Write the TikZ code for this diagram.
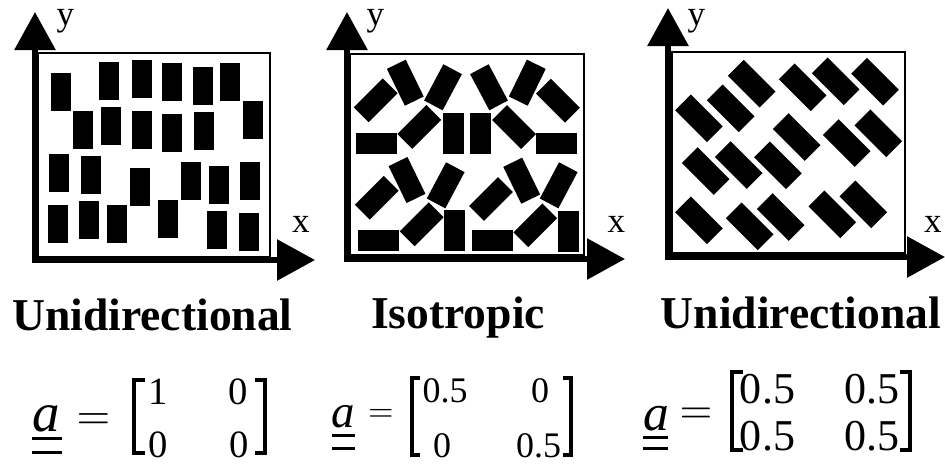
\documentclass[tikz,border=0pt]{standalone}
\usepackage[no-math]{fontspec}
\setmainfont{Liberation Serif}
\usepackage{amsmath}
\usetikzlibrary{arrows.meta, calc}

\begin{document}
\begin{tikzpicture}[
        x=0.03cm, y=-0.03cm,
        fibre/.style={fill=black, inner sep=0pt, minimum width=0.6cm, minimum height=1.14cm},
        isofibre/.style={fibre, minimum width=0.63cm, minimum height=1.23cm},
        skewfibre/.style={fibre, minimum width=0.67cm, minimum height=1.35cm, rotate=45},
        frame/.style={line width=0.06cm},
        axis/.style={line width=0.18cm, {Triangle[length=1.14cm, width=1.2cm]}-{Triangle[length=1.14cm, width=1.2cm]}},
        axlabel/.style={anchor=base, inner sep=0pt, font=\fontsize{30}{32}\selectfont},
        title/.style={anchor=base, inner sep=0pt, font=\fontsize{38.9}{40}\selectfont\bfseries},
        entry/.style={anchor=base, inner sep=0pt, font=\fontsize{#1}{#1}\selectfont},
        tensor/.style={anchor=base, inner sep=0pt, font=\fontsize{#1}{#1}\selectfont\itshape},
        equals/.style={anchor=base, inner sep=0pt},
        bracket/.style={line width=0.1cm},
        uline/.style={line width=0.09cm}
    ]
    \useasboundingbox (0,0) rectangle (945,463);

    % panel 1: unidirectional along y
    \draw[frame] (38,53) rectangle (270,257);
    \foreach \px/\py [count=\k] in {60.7/92, 109/81, 141.5/78.5, 171.5/82, 202.5/86, 230/82,
            83/130, 111/126, 142/130, 172/133, 204/131, 253/120,
            59/173, 91/175, 140/186.5, 191/181, 219/185, 250/181,
            58/224, 89/220, 117/224, 168/218.5, 217/230, 249/232}
        \node[fibre] (u\k) at (\px,\py) {};
    \draw[axis] (35,12) -- (35,260) -- (315,260);
    \node[axlabel] (y1) at (65.5,25) {y};
    \node[axlabel] (x1) at (301,232) {x};

    % panel 2: isotropic
    \draw[frame] (350,54) rectangle (584,255);
    \foreach \px/\py/\r [count=\k] in {375.7/100.3/-45, 405.3/82.7/26, 443/87.3/-28, 419.3/127/-45, 376.5/143.2/90, 453/133.7/0,
            480/133.7/0, 489/87.3/28, 527.3/82.7/-26, 558/100.7/45, 514/127/45, 556.3/143.2/90,
            376.7/197.7/-45, 407/180/26, 445.7/185.3/-28, 421.7/224.3/-45, 378.8/240/90, 454.2/230.8/0,
            491/199/-45, 521.7/180.7/26, 558.7/185.3/-28, 535.3/225.3/-45, 492.2/240.8/90, 568/231.7/0}
        \node[isofibre, rotate=\r] (i\k) at (\px,\py) {};
    \draw[axis] (347,12) -- (347,259) -- (625,259);
    \node[axlabel] (y2) at (375.5,25) {y};
    \node[axlabel] (x2) at (616.5,232) {x};

    % panel 3: unidirectional at 45 degrees
    \draw[frame] (672,52) rectangle (905,253);
    \foreach \px/\py [count=\k] in {699/118.3, 730.7/108.3, 751.7/83.7, 802.7/87.3, 835.7/81.3, 875/81.7,
            705.7/171, 738.7/165, 778/165.3, 796.7/137, 846.7/143, 878.3/133.3,
            699/220.3, 749.7/226.3, 780.7/217, 832.3/214.3, 863.3/204.3}
        \node[skewfibre] (s\k) at (\px,\py) {};
    \draw[axis] (668,8) -- (668,257) -- (945,257);
    \node[axlabel] (y3) at (696.5,25) {y};
    \node[axlabel] (x3) at (933,232) {x};

    % titles
    \node[title] (uni1) at (152.5,330) {Unidirectional};
    \node[title] (iso) at (458,328) {Isotropic};
    \node[title] (uni2) at (801,328) {Unidirectional};

    % orientation tensors
    \node[tensor=47] (a1) at (46.5,431) {a};
    \draw[uline] (32,438) -- (62,438);
    \draw[uline] (32,452) -- (62,452);
    \node[equals] (eq1) at (93.5,429) {\scalebox{3.7}{$=$}};
    \draw[bracket] (145,380) -- (134,380) -- (134,453) -- (145,453);
    \draw[bracket] (255,380) -- (265,380) -- (265,453) -- (255,453);
    \node[entry=33] (m1-11) at (158.5,404) {1};
    \node[entry=33] (m1-12) at (238.5,404) {0};
    \node[entry=33] (m1-21) at (158,457) {0};
    \node[entry=33] (m1-22) at (239,457) {0};

    \node[tensor=40] (a2) at (343,427) {a};
    \draw[uline] (332,435) -- (355,435);
    \draw[uline] (332,448) -- (355,448);
    \node[equals] (eq2) at (381,421) {\scalebox{2.8}{$=$}};
    \draw[bracket] (420,378) -- (412,378) -- (412,455) -- (420,455);
    \draw[bracket] (563,378) -- (571,378) -- (571,455) -- (563,455);
    \node[entry=30.7] (m2-11) at (445,402) {0.5};
    \node[entry=30.7] (m2-12) at (540,402) {0};
    \node[entry=30.7] (m2-21) at (442,457) {0};
    \node[entry=30.7] (m2-22) at (538.5,457) {0.5};

    \node[tensor=44] (a3) at (656,430) {a};
    \draw[uline] (643,437) -- (668,437);
    \draw[uline] (643,448) -- (668,448);
    \node[equals] (eq3) at (696,423) {\scalebox{3.6}{$=$}};
    \draw[bracket] (743,372) -- (732,372) -- (732,450) -- (743,450);
    \draw[bracket] (900,372) -- (910,372) -- (910,450) -- (900,450);
    \node[entry=37.6] (m3-11) at (767.5,403) {0.5};
    \node[entry=37.6] (m3-12) at (872,403) {0.5};
    \node[entry=37.6] (m3-21) at (767.5,450) {0.5};
    \node[entry=37.6] (m3-22) at (872,450) {0.5};
\end{tikzpicture}
\end{document}
